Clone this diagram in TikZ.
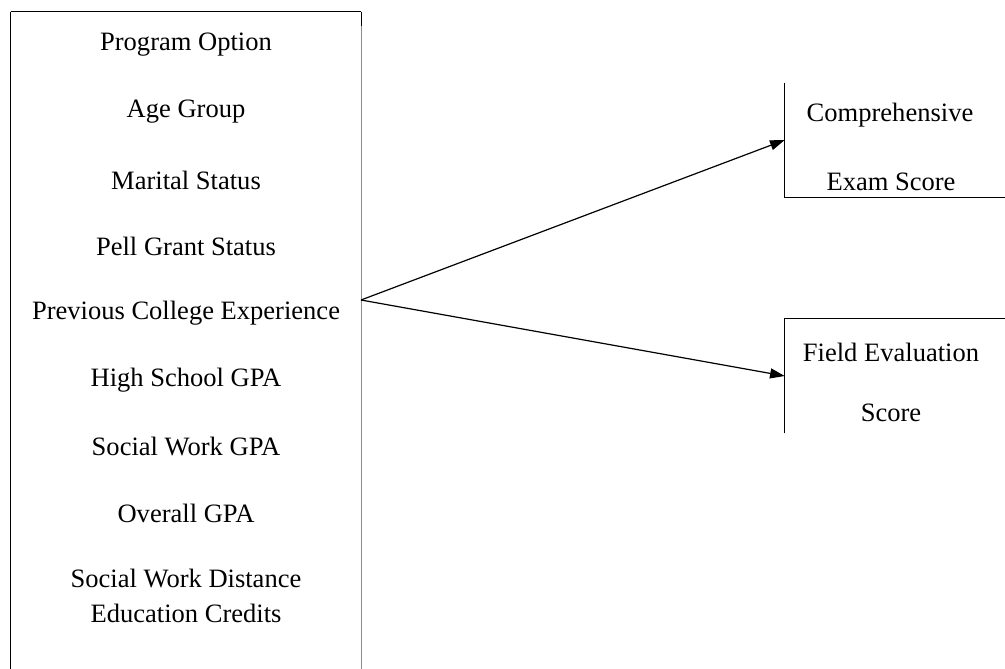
\documentclass[tikz,border=0pt]{standalone}
\usepackage{fontspec}
\setmainfont{Liberation Serif}
\usetikzlibrary{arrows.meta}
\begin{document}
\begin{tikzpicture}[x=0.75pt,y=-0.75pt,
  lbl/.style={inner sep=0pt,font=\fontsize{19.9}{24}\selectfont},
  edge/.style={line width=0.9pt,black},
  arr/.style={line width=0.9pt,-{Triangle[length=11pt,width=7.5pt]}},
  outbox/.style={rectangle,inner sep=0pt,minimum width=180pt,minimum height=85.5pt}]
\useasboundingbox (0,0) rectangle (1005,668);
\clip (0,0) rectangle (1005,668);
% left box
\node[rectangle,inner sep=0pt,minimum width=262.5pt,minimum height=510pt] (left) at (186,352) {};
\draw[edge] (left.north west) -- (left.north east);
\draw[edge] (left.north west) -- (left.south west);
\draw[line width=0.9pt,black!45] (left.north east) -- (left.south east);
\draw[edge] (left.north east) -- ++(0,14);
\coordinate (src) at (361,300);
% left texts
\node[lbl] (t1) at (186,45) {Program Option};
\node[lbl] (t2) at (186,112) {Age Group};
\node[lbl] (t3) at (186,180) {Marital Status};
\node[lbl] (t4) at (186,246) {Pell Grant Status};
\node[lbl] (t5) at (186,313) {Previous College Experience};
\node[lbl] (t6) at (186,380) {High School GPA};
\node[lbl] (t7) at (186,446) {Social Work GPA};
\node[lbl] (t8) at (186,513) {Overall GPA};
\node[lbl] (t9) at (186,578) {Social Work Distance};
\node[lbl] (t10) at (186,613) {Education Credits};
% right boxes
\node[outbox] (comp) at (905,140) {};
\draw[edge] (comp.north west) -- (comp.south west) -- (comp.south east);
\node[lbl] (c1) at (890,115) {Comprehensive};
\node[lbl] (c2) at (891,182) {Exam Score};
\node[outbox] (field) at (905,376) {};
\draw[edge] (field.south west) -- (field.north west) -- (field.north east);
\node[lbl] (f1) at (891,352) {Field Evaluation};
\node[lbl] (f2) at (891,413) {Score};
% arrows
\draw[arr] (src) -- (comp.west);
\draw[arr] (src) -- (field.west);
\end{tikzpicture}
\end{document}
